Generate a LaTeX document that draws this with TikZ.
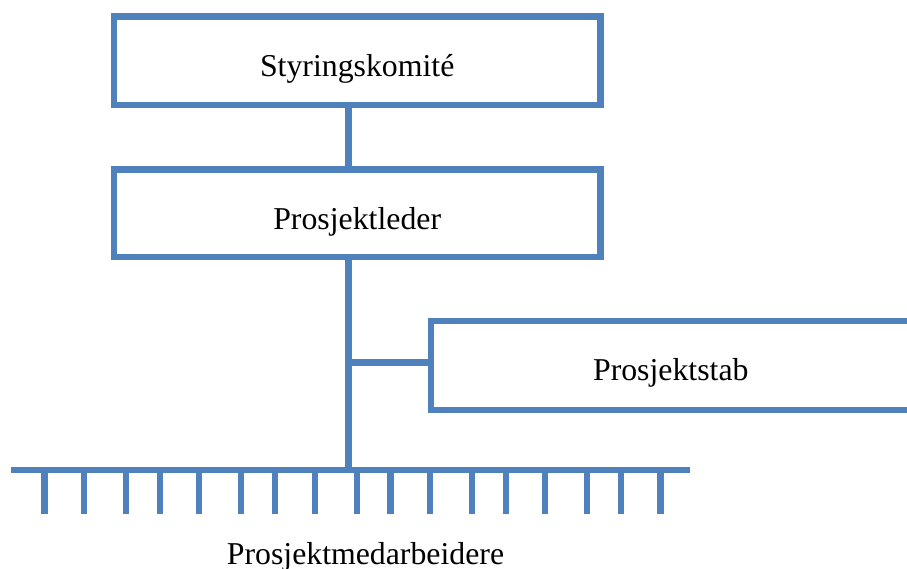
\documentclass[tikz,border=0pt]{standalone}
\usepackage{fontspec}
\setmainfont{Liberation Serif}
\definecolor{orgblue}{HTML}{4F81BD}
\begin{document}
\begin{tikzpicture}[x=1pt,y=-1pt,
  orgbox/.style={draw=orgblue, line width=6.5pt, rectangle, inner sep=0pt,
    minimum width=486.5pt, font=\fontsize{31.8}{38}\selectfont,
    text height=32pt, text depth=0pt},
  link/.style={draw=orgblue, line width=6.2pt},
  tooth/.style={draw=orgblue, line width=6.2pt},
  lbl/.style={font=\fontsize{31.8}{38}\selectfont, inner sep=0pt, anchor=base}]
\useasboundingbox (0,0) rectangle (907,569);

% management boxes
\node[orgbox, minimum height=88.5pt] (komite) at (357.2,60.8) {Styringskomité};
\node[orgbox, minimum height=87.5pt] (leder) at (357.2,213.2) {Prosjektleder};

% staff box, running off the right edge
\node[orgbox, minimum width=600pt, minimum height=88.7pt, anchor=west] (stab) at (427.5,365.4) {};
\node[lbl] (stablbl) at (670.8,380.8) {Prosjektstab};

% connectors
\coordinate (bus) at (348.5,470);
\coordinate (branch) at (348.5,362.5);
\draw[link] (komite.south -| bus) -- (leder.north -| bus);
\draw[link] (leder.south -| bus) -- (bus);
\draw[link] (branch) -- (branch -| stab.west);

% staff members: bar with teeth
\coordinate (barL) at (11,470);
\coordinate (barR) at (690,470);
\draw[tooth] (barL) -- (barR);
\foreach \i in {0,...,5}{
  \foreach \d in {33.5,73,115}{
    \pgfmathsetmacro{\tx}{11+115.3*\i+\d}
    \ifdim\tx pt<690pt
      \draw[tooth] (\tx,470) -- (\tx,514);
    \fi
  }
}

\node[lbl] (medarb) at (365.5,564) {Prosjektmedarbeidere};
\end{tikzpicture}
\end{document}
